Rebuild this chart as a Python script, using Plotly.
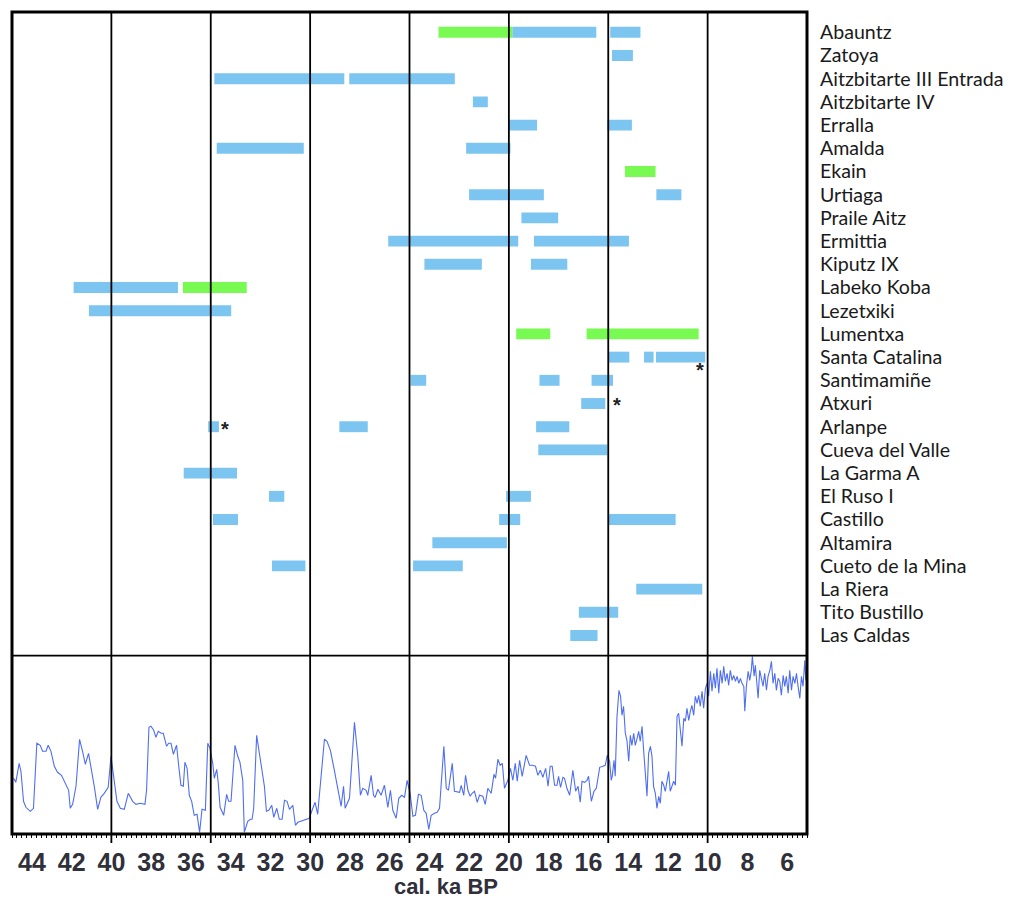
import plotly.graph_objects as go

# ---------------- data ----------------
sites = ["Abauntz", "Zatoya", "Aitzbitarte III Entrada", "Aitzbitarte IV", "Erralla",
         "Amalda", "Ekain", "Urtiaga", "Praile Aitz", "Ermittia", "Kiputz IX",
         "Labeko Koba", "Lezetxiki", "Lumentxa", "Santa Catalina", "Santimamiñe",
         "Atxuri", "Arlanpe", "Cueva del Valle", "La Garma A", "El Ruso I", "Castillo",
         "Altamira", "Cueto de la Mina", "La Riera", "Tito Bustillo", "Las Caldas"]

# blue ranges (cal. ka BP)
blue_site = ["Abauntz", "Abauntz", "Zatoya", "Aitzbitarte III Entrada", "Aitzbitarte III Entrada",
             "Aitzbitarte IV", "Erralla", "Erralla", "Amalda", "Amalda", "Urtiaga", "Urtiaga",
             "Praile Aitz", "Ermittia", "Ermittia", "Kiputz IX", "Kiputz IX", "Labeko Koba",
             "Lezetxiki", "Santa Catalina", "Santa Catalina", "Santa Catalina",
             "Santimamiñe", "Santimamiñe", "Santimamiñe", "Atxuri",
             "Arlanpe", "Arlanpe", "Arlanpe", "Cueva del Valle", "La Garma A",
             "El Ruso I", "El Ruso I", "Castillo", "Castillo", "Castillo", "Altamira",
             "Cueto de la Mina", "Cueto de la Mina", "La Riera", "Tito Bustillo", "Las Caldas"]
blue_old = [19.83, 14.90, 14.81, 34.82, 28.03,
            21.81, 20.00, 15.05, 34.70, 22.15, 22.00, 12.58,
            19.37, 26.07, 18.74, 24.25, 18.89, 41.90,
            41.13, 15.00, 13.20, 12.60,
            24.95, 18.46, 15.84, 16.36,
            35.13, 28.53, 18.63, 18.52, 36.36,
            32.07, 20.14, 34.89, 20.49, 15.00, 23.85,
            31.92, 24.82, 13.59, 16.48, 16.91]
blue_young = [15.60, 13.38, 13.76, 28.28, 22.72,
              21.06, 18.58, 13.81, 30.32, 19.92, 18.24, 11.32,
              17.52, 19.53, 13.96, 21.36, 17.06, 36.65,
              33.97, 13.94, 12.72, 10.12,
              24.16, 17.45, 14.76, 15.15,
              34.59, 27.10, 16.96, 15.05, 33.68,
              31.30, 18.89, 33.63, 19.43, 11.61, 20.10,
              30.24, 22.32, 10.27, 14.50, 15.54]

# green ranges (cal. ka BP)
green_site = ["Abauntz", "Ekain", "Labeko Koba", "Lumentxa", "Lumentxa"]
green_old = [23.54, 14.16, 36.40, 19.63, 16.09]
green_young = [19.83, 12.62, 33.19, 17.92, 10.45]

# asterisk marks (site, age)
star_site = ["Santa Catalina", "Atxuri", "Arlanpe"]
star_age = [10.40, 14.54, 34.28]

# lower panel: climate record (relative oxygen-isotope index)
clim_age = [44.92, 44.81, 44.64, 44.55, 44.42, 44.30, 44.08, 43.92, 43.75, 43.58, 43.46, 43.29,
            43.18, 43.04, 42.87, 42.71, 42.51, 42.29, 42.15, 42.07, 41.95, 41.78, 41.60, 41.45,
            41.31, 41.15, 41.03, 40.86, 40.69, 40.53, 40.36, 40.16, 40.02, 39.89, 39.72, 39.55,
            39.35, 39.15, 38.93, 38.76, 38.54, 38.31, 38.23, 38.11, 38.01, 37.87, 37.76, 37.64,
            37.50, 37.39, 37.22, 37.12, 37.00, 36.88, 36.72, 36.61, 36.50, 36.38, 36.30, 36.19,
            36.08, 35.96, 35.83, 35.69, 35.56, 35.44, 35.27, 35.15, 35.04,
            34.90, 34.82, 34.70, 34.62, 34.53, 34.35, 34.20, 34.10, 33.98, 33.78, 33.64, 33.53,
            33.39, 33.31, 33.14, 33.01, 32.92, 32.84, 32.69, 32.55, 32.44, 32.30, 32.20, 32.08,
            31.93, 31.83, 31.68, 31.55, 31.41, 31.29, 31.16, 31.04, 30.87, 30.74, 30.62, 30.46,
            30.25, 30.04, 29.92, 29.75, 29.62, 29.28, 29.15, 28.98, 28.78, 28.61, 28.44, 28.32,
            28.24, 28.02, 27.77, 27.60, 27.47, 27.35, 27.18, 27.10, 26.93, 26.81, 26.73, 26.59,
            26.43, 26.26, 26.09, 25.96, 25.84, 25.67, 25.54, 25.39, 25.25, 25.12, 24.97,
            24.83, 24.70, 24.55, 24.41, 24.28, 24.16, 24.03, 23.91, 23.74, 23.61, 23.49, 23.27,
            23.15, 23.04, 22.85, 22.74, 22.48, 22.40, 22.27, 22.18, 22.06, 21.95, 21.85, 21.73,
            21.59, 21.48, 21.31, 21.19, 21.06, 20.89, 20.75, 20.67, 20.55, 20.44, 20.33, 20.22,
            20.05, 19.92, 19.80, 19.68, 19.58, 19.46, 19.33, 19.13, 18.96, 18.82, 18.66, 18.54,
            18.42, 18.29, 18.15, 18.03, 17.92, 17.82, 17.70, 17.58, 17.50, 17.40, 17.28, 17.20,
            17.08, 16.94, 16.78, 16.64, 16.52, 16.41, 16.32, 16.19, 16.07, 15.99, 15.85, 15.72,
            15.60, 15.43, 15.27, 15.15, 15.05, 14.93, 14.85,
            14.80, 14.71, 14.65, 14.56, 14.46, 14.38, 14.31, 14.23, 14.14, 14.06, 13.97, 13.89,
            13.81, 13.72, 13.64, 13.55, 13.47, 13.39, 13.30, 13.22, 13.13, 13.05, 12.97, 12.88,
            12.80, 12.72, 12.63, 12.55, 12.46, 12.38, 12.30, 12.21, 12.13, 12.04, 11.96, 11.88,
            11.79, 11.71, 11.62, 11.54, 11.46, 11.37, 11.29, 11.20, 11.12, 11.04, 10.95, 10.87,
            10.79, 10.70, 10.62, 10.53, 10.45, 10.37, 10.28, 10.20, 10.11, 10.03, 9.95, 9.86,
            9.78, 9.69, 9.61, 9.53, 9.44, 9.36, 9.27, 9.19, 9.11, 9.02, 8.94, 8.86,
            8.77, 8.69, 8.60, 8.52, 8.43, 8.35, 8.27, 8.18, 8.13, 8.05, 7.96, 7.88,
            7.80, 7.75, 7.66, 7.60, 7.51, 7.46, 7.38, 7.29, 7.21, 7.13, 7.04, 6.96,
            6.87, 6.79, 6.71, 6.62, 6.54, 6.45, 6.37, 6.29, 6.20, 6.12, 6.04, 5.95,
            5.87, 5.78, 5.70, 5.61, 5.53, 5.45, 5.36, 5.28, 5.20, 5.11, 5.06, 4.99]
clim_val = [55, 51, 70, 62, 32, 26, 22, 25, 90, 88, 82, 82,
            88, 82, 67, 61, 58, 48, 43, 25, 29, 47, 94, 82,
            69, 80, 67, 47, 24, 36, 40, 46, 77, 57, 32, 25,
            24, 40, 32, 29, 30, 29, 43, 106, 107, 103, 96, 102,
            100, 100, 87, 90, 90, 79, 88, 67, 48, 47, 71, 65,
            38, 32, 18, 19, 1, 24, 23, 90, 85,
            70, 55, 64, 50, 26, 18, 39, 32, 32, 88, 77, 71,
            53, 1, 12, 14, 14, 25, 98, 78, 65, 47, 22, 23,
            28, 16, 25, 14, 14, 33, 32, 24, 28, 8, 11, 12,
            13, 15, 22, 31, 19, 94, 92, 83, 63, 45, 27, 47,
            25, 35, 111, 77, 38, 45, 43, 38, 58, 38, 36, 44,
            38, 48, 26, 43, 23, 15, 35, 38, 36, 53, 40,
            17, 18, 39, 38, 23, 20, 4, 18, 20, 21, 25, 87,
            45, 43, 70, 42, 41, 48, 38, 58, 43, 37, 40, 42,
            31, 38, 37, 29, 45, 40, 59, 55, 74, 68, 70, 45,
            53, 65, 53, 70, 52, 73, 57, 78, 68, 68, 67, 58,
            63, 56, 65, 47, 67, 67, 48, 48, 57, 46, 56, 55,
            45, 38, 63, 42, 47, 31, 52, 51, 53, 57, 32, 42,
            45, 66, 67, 68, 78, 72, 53,
            57, 73, 57, 117, 143, 137, 118, 127, 100, 93, 72, 98,
            88, 100, 88, 95, 102, 92, 107, 83, 63, 37, 80, 87,
            77, 47, 40, 25, 37, 30, 52, 48, 42, 52, 62, 42,
            47, 52, 48, 117, 120, 103, 87, 115, 112, 125, 113, 122,
            128, 118, 137, 130, 138, 127, 142, 125, 145, 150, 137, 162,
            142, 160, 145, 165, 140, 163, 150, 167, 152, 160, 148, 163,
            153, 158, 152, 157, 150, 155, 150, 147, 122, 147, 162, 153,
            163, 177, 157, 168, 145, 135, 163, 153, 147, 160, 143, 157,
            163, 172, 150, 160, 143, 155, 152, 138, 158, 147, 157, 140,
            163, 143, 157, 150, 160, 147, 135, 157, 147, 173, 153, 162]

x_labels = [44, 42, 40, 38, 36, 34, 32, 30, 28, 26, 24, 22, 20, 18, 16, 14, 12, 10, 8, 6]
grid_ages = [40, 35, 30, 25, 20, 15, 10]

# ---------------- figure ----------------
BLUE = "#7cc5f1"
GREEN = "#78fa52"
idx = {s: i for i, s in enumerate(sites)}

fig = go.Figure()
fig.add_trace(go.Bar(
    orientation="h",
    y=[idx[s] for s in blue_site],
    base=blue_young,
    x=[o - y for o, y in zip(blue_old, blue_young)],
    marker=dict(color=BLUE, line=dict(width=0)),
    width=0.47, xaxis="x", yaxis="y", showlegend=False,
))
fig.add_trace(go.Bar(
    orientation="h",
    y=[idx[s] for s in green_site],
    base=green_young,
    x=[o - y for o, y in zip(green_old, green_young)],
    marker=dict(color=GREEN, line=dict(width=0)),
    width=0.47, xaxis="x", yaxis="y", showlegend=False,
))
fig.add_trace(go.Scatter(
    x=clim_age, y=clim_val, mode="lines",
    line=dict(color="#4f6ef0", width=1.1),
    xaxis="x2", yaxis="y2", showlegend=False,
))

split = 0.2169
fig.update_layout(
    width=1003, height=893,
    margin=dict(l=4, r=204, t=4, b=67),
    paper_bgcolor="white", plot_bgcolor="white",
    barmode="overlay",
    xaxis=dict(domain=[0, 1], anchor="y", range=[45, 5], showticklabels=False,
               showgrid=False, zeroline=False, ticks="", matches="x2"),
    yaxis=dict(domain=[split, 1], anchor="x", range=[26.87, -0.875], side="right",
               tickmode="array", tickvals=list(range(len(sites))), ticktext=sites,
               ticks="", showgrid=False, zeroline=False, ticklabelstandoff=12,
               tickfont=dict(family="Lato, Open Sans, sans-serif", size=19.6, color="#1a1a1a")),
    xaxis2=dict(domain=[0, 1], anchor="y2", range=[45, 5], showgrid=False, zeroline=False,
                tickmode="array", tickvals=x_labels, ticktext=[str(v) for v in x_labels],
                ticks="outside", ticklen=3, tickwidth=1, tickcolor="black",
                minor=dict(dtick=0.25, ticks="outside", ticklen=3, tickwidth=1, tickcolor="black"),
                showline=False, ticklabelstandoff=3,
                tickfont=dict(family="Liberation Sans, Arial, sans-serif", size=25,
                              color="#30303a", weight="bold")),
    yaxis2=dict(domain=[0, split], anchor="x2", range=[-0.7, 177.6], showticklabels=False,
                showgrid=False, zeroline=False, ticks=""),
)

shapes = []
for a in grid_ages:
    shapes.append(dict(type="line", xref="x", yref="paper", x0=a, x1=a, y0=-0.011, y1=1,
                       line=dict(color="black", width=1.8), layer="above"))
shapes.append(dict(type="line", xref="paper", yref="paper", x0=0, x1=1, y0=split, y1=split,
                   line=dict(color="black", width=1.8), layer="above"))
shapes.append(dict(type="rect", xref="paper", yref="paper", x0=0, x1=1, y0=0, y1=1,
                   line=dict(color="black", width=3), layer="above"))
fig.update_layout(shapes=shapes)

star_row_shift = [0.55, 0.08, 0.08]
annotations = []
for s, a, d in zip(star_site, star_age, star_row_shift):
    annotations.append(dict(x=a, y=idx[s] + d, xref="x", yref="y", text="*",
                            showarrow=False, font=dict(family="Liberation Sans, Arial", size=20,
                                                       color="#222", weight="bold")))
annotations.append(dict(x=0.546, y=0, xref="paper", yref="paper", yshift=-52,
                        text="cal. ka BP", showarrow=False, yanchor="middle",
                        font=dict(family="Liberation Sans, Arial, sans-serif", size=22,
                                  color="#30303a", weight="bold")))
fig.update_layout(annotations=annotations)

fig.write_html("out.html")
